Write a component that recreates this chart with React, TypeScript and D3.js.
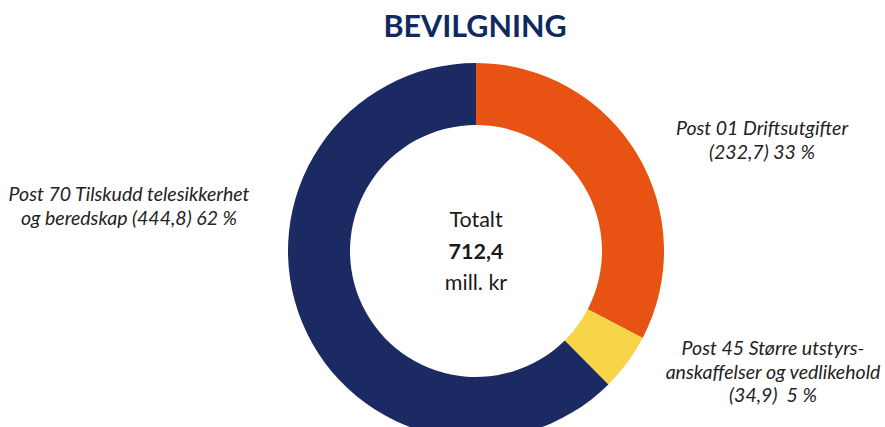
import React from "react";
import * as d3 from "d3";

const categories = ["Post 01 Driftsutgifter", "Post 45 Større utstyrsanskaffelser og vedlikehold", "Post 70 Tilskudd telesikkerhet og beredskap"];
const values = [232.7, 34.9, 444.8];
const colors = ["#E85212", "#F8D548", "#1B2A63"];
const labelLines = [
  ["Post 01 Driftsutgifter", "(232,7) 33 %"],
  ["Post 45 Større utstyrs-", "anskaffelser og vedlikehold", "(34,9)\u00A0 5 %"],
  ["Post 70 Tilskudd telesikkerhet", "og beredskap (444,8) 62 %"],
];
const centerLines = ["Totalt", "712,4", "mill. kr"];
const title = "BEVILGNING";

const W = 885, H = 427;
const cx = 476, cy = 251;
const outerR = 188, innerR = 126;
const labelPos = [
  { x: 762, y: 135 },
  { x: 773, y: 355 },
  { x: 129, y: 201 },
];

export default function App() {
  const pie = d3.pie<number>().sort(null).value((d) => d)(values);
  const arc = d3.arc<d3.PieArcDatum<number>>().innerRadius(innerR).outerRadius(outerR);
  return (
    <svg width={W} height={H} style={{ position: "absolute", left: 0, top: 0, display: "block" }}
      fontFamily="Lato, 'Open Sans', sans-serif">
      <rect width={W} height={H} fill="#fff" />
      <text x={475} y={37} textAnchor="middle" fontSize={30.5} fontWeight={700} fill="#0E2A5E">{title}</text>
      <g transform={`translate(${cx},${cy})`}>
        {pie.map((p, i) => (
          <path key={categories[i]} d={arc(p) || ""} fill={colors[i]} />
        ))}
      </g>
      <text x={cx} y={227} textAnchor="middle" fontSize={21.5} fill="#1a1a1a">{centerLines[0]}</text>
      <text x={cx} y={259} textAnchor="middle" fontSize={21.5} fontWeight={700} fill="#1a1a1a">{centerLines[1]}</text>
      <text x={cx} y={290} textAnchor="middle" fontSize={21.5} fill="#1a1a1a">{centerLines[2]}</text>
      {labelLines.map((lines, i) => (
        <text key={i} textAnchor="middle" fontSize={19.5} fontStyle="italic" fill="#222">
          {lines.map((l, j) => (
            <tspan key={j} x={labelPos[i].x} y={labelPos[i].y + j * 23.5}>{l}</tspan>
          ))}
        </text>
      ))}
    </svg>
  );
}
